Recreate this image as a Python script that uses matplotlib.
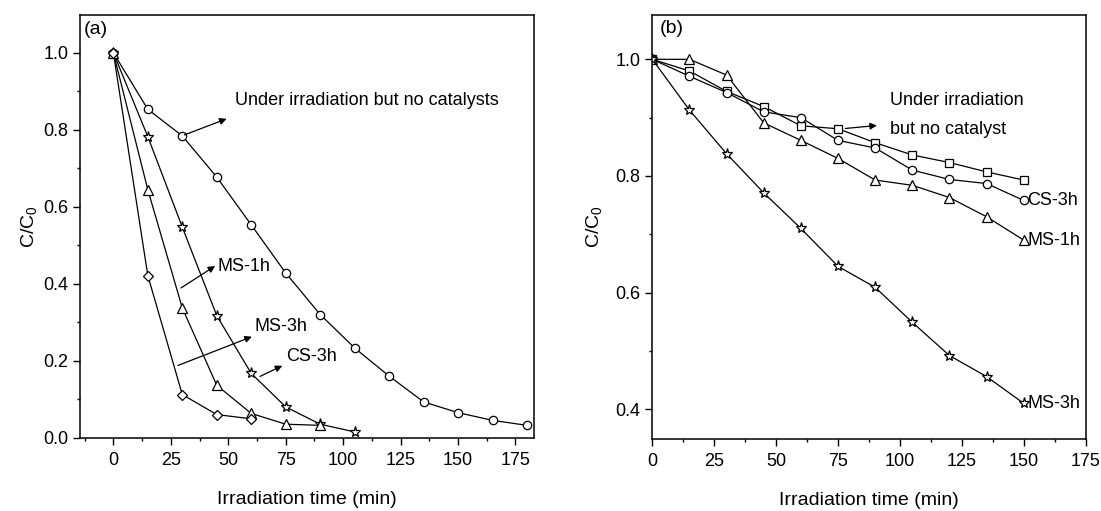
import matplotlib
matplotlib.use("Agg")
import matplotlib.pyplot as plt
from matplotlib.ticker import MultipleLocator, FormatStrFormatter

plt.rcParams['font.family'] = ['Liberation Sans', 'DejaVu Sans']
plt.rcParams['mathtext.fontset'] = 'custom'
plt.rcParams['mathtext.rm'] = 'Liberation Sans'
plt.rcParams['mathtext.it'] = 'Liberation Sans'

# ---- Panel (a) data ----
a_t_none = [0, 15, 30, 45, 60, 75, 90, 105, 120, 135, 150, 165, 180]
a_none = [1.0, 0.853, 0.784, 0.677, 0.553, 0.428, 0.320, 0.233, 0.160, 0.093, 0.065, 0.045, 0.032]
a_t_cs3 = [0, 15, 30, 45, 60, 75, 90, 105]
a_cs3 = [1.0, 0.782, 0.547, 0.317, 0.167, 0.080, 0.035, 0.015]
a_t_ms1 = [0, 15, 30, 45, 60, 75, 90]
a_ms1 = [1.0, 0.644, 0.337, 0.136, 0.063, 0.035, 0.032]
a_t_ms3 = [0, 15, 30, 45, 60]
a_ms3 = [1.0, 0.421, 0.112, 0.060, 0.049]

# ---- Panel (b) data ----
b_t = [0, 15, 30, 45, 60, 75, 90, 105, 120, 135, 150]
b_none = [1.0, 0.980, 0.945, 0.919, 0.886, 0.881, 0.857, 0.836, 0.823, 0.807, 0.793]
b_cs3 = [1.0, 0.971, 0.943, 0.910, 0.900, 0.861, 0.848, 0.810, 0.794, 0.787, 0.758]
b_ms1 = [1.0, 1.0, 0.973, 0.891, 0.861, 0.830, 0.793, 0.784, 0.763, 0.730, 0.690]
b_ms3 = [1.0, 0.913, 0.838, 0.771, 0.710, 0.645, 0.609, 0.549, 0.492, 0.456, 0.410]

x_ticks = [0, 25, 50, 75, 100, 125, 150, 175]

fig = plt.figure(figsize=(11.01, 5.11), dpi=100)
axa = fig.add_axes([0.0727, 0.1435, 0.4122, 0.8278])
axb = fig.add_axes([0.5925, 0.1409, 0.3936, 0.8303])

lw = 0.9
ms = 6
def line(ax, x, y, marker, size=ms):
    ax.plot(x, y, color='black', lw=lw, marker=marker, ms=size,
            mfc='white', mec='black', mew=0.9)

line(axa, a_t_none, a_none, 'o')
line(axa, a_t_cs3, a_cs3, '*', 8)
line(axa, a_t_ms1, a_ms1, '^', 7)
line(axa, a_t_ms3, a_ms3, 'D', 5.5)

line(axb, b_t, b_none, 's', 5.5)
line(axb, b_t, b_cs3, 'o')
line(axb, b_t, b_ms1, '^', 7)
line(axb, b_t, b_ms3, '*', 8)

fs = 13
lfs = 14
afs = 13
arrow = dict(arrowstyle='-|>', color='black', lw=0.9, mutation_scale=10)

# annotations (a)
axa.annotate('', xy=(50.4, 0.831), xytext=(29.8, 0.784), arrowprops=arrow)
axa.text(52.9, 0.877, 'Under irradiation but no catalysts', fontsize=afs, va='center', ha='left')
axa.annotate('', xy=(45.3, 0.450), xytext=(28.4, 0.385), arrowprops=arrow)
axa.text(45.3, 0.444, 'MS-1h', fontsize=afs, va='center', ha='left')
axa.annotate('', xy=(61.4, 0.265), xytext=(27.0, 0.185), arrowprops=arrow)
axa.text(61.4, 0.289, 'MS-3h', fontsize=afs, va='center', ha='left')
axa.annotate('', xy=(74.6, 0.190), xytext=(62.7, 0.156), arrowprops=arrow)
axa.text(75.1, 0.211, 'CS-3h', fontsize=afs, va='center', ha='left')

# annotations (b)
axb.annotate('', xy=(91.8, 0.887), xytext=(76.8, 0.881), arrowprops=arrow)
axb.text(96.1, 0.930, 'Under irradiation', fontsize=afs, va='center', ha='left')
axb.text(96.1, 0.879, 'but no catalyst', fontsize=afs, va='center', ha='left')
axb.text(151.5, b_cs3[-1], 'CS-3h', fontsize=afs, va='center', ha='left')
axb.text(151.5, b_ms1[-1], 'MS-1h', fontsize=afs, va='center', ha='left')
axb.text(151.5, b_ms3[-1], 'MS-3h', fontsize=afs, va='center', ha='left')

axa.set_xlim(-14.5, 183.0)
axa.set_ylim(0.0, 1.099)
axa.set_yticks([0.0, 0.2, 0.4, 0.6, 0.8, 1.0])
axa.yaxis.set_minor_locator(MultipleLocator(0.1))

axb.set_xlim(0, 175)
axb.set_ylim(0.349, 1.0765)
axb.set_yticks([0.4, 0.6, 0.8, 1.0])
axb.yaxis.set_minor_locator(MultipleLocator(0.1))

for ax, ypad in ((axa, 3), (axb, 8)):
    ax.set_xticks(x_ticks)
    ax.xaxis.set_minor_locator(MultipleLocator(12.5))
    ax.tick_params(which='both', direction='out', top=False, right=False, labelsize=fs, width=1.0)
    ax.tick_params(which='major', length=5)
    ax.tick_params(which='minor', length=2.5)
    ax.tick_params(axis='x', which='major', pad=5)
    for s in ax.spines.values():
        s.set_linewidth(1.1)
    ax.set_xlabel('Irradiation time (min)', fontsize=lfs, labelpad=16)
    ax.set_ylabel('C/C$_{\\mathregular{0}}$', fontsize=lfs, labelpad=ypad)
    ax.yaxis.set_major_formatter(FormatStrFormatter('%.1f'))

axa.text(0.009, 0.985, '(a)', transform=axa.transAxes, fontsize=lfs, va='top', ha='left')
axb.text(0.016, 0.987, '(b)', transform=axb.transAxes, fontsize=lfs, va='top', ha='left')

fig.savefig('out.png', dpi=100)
